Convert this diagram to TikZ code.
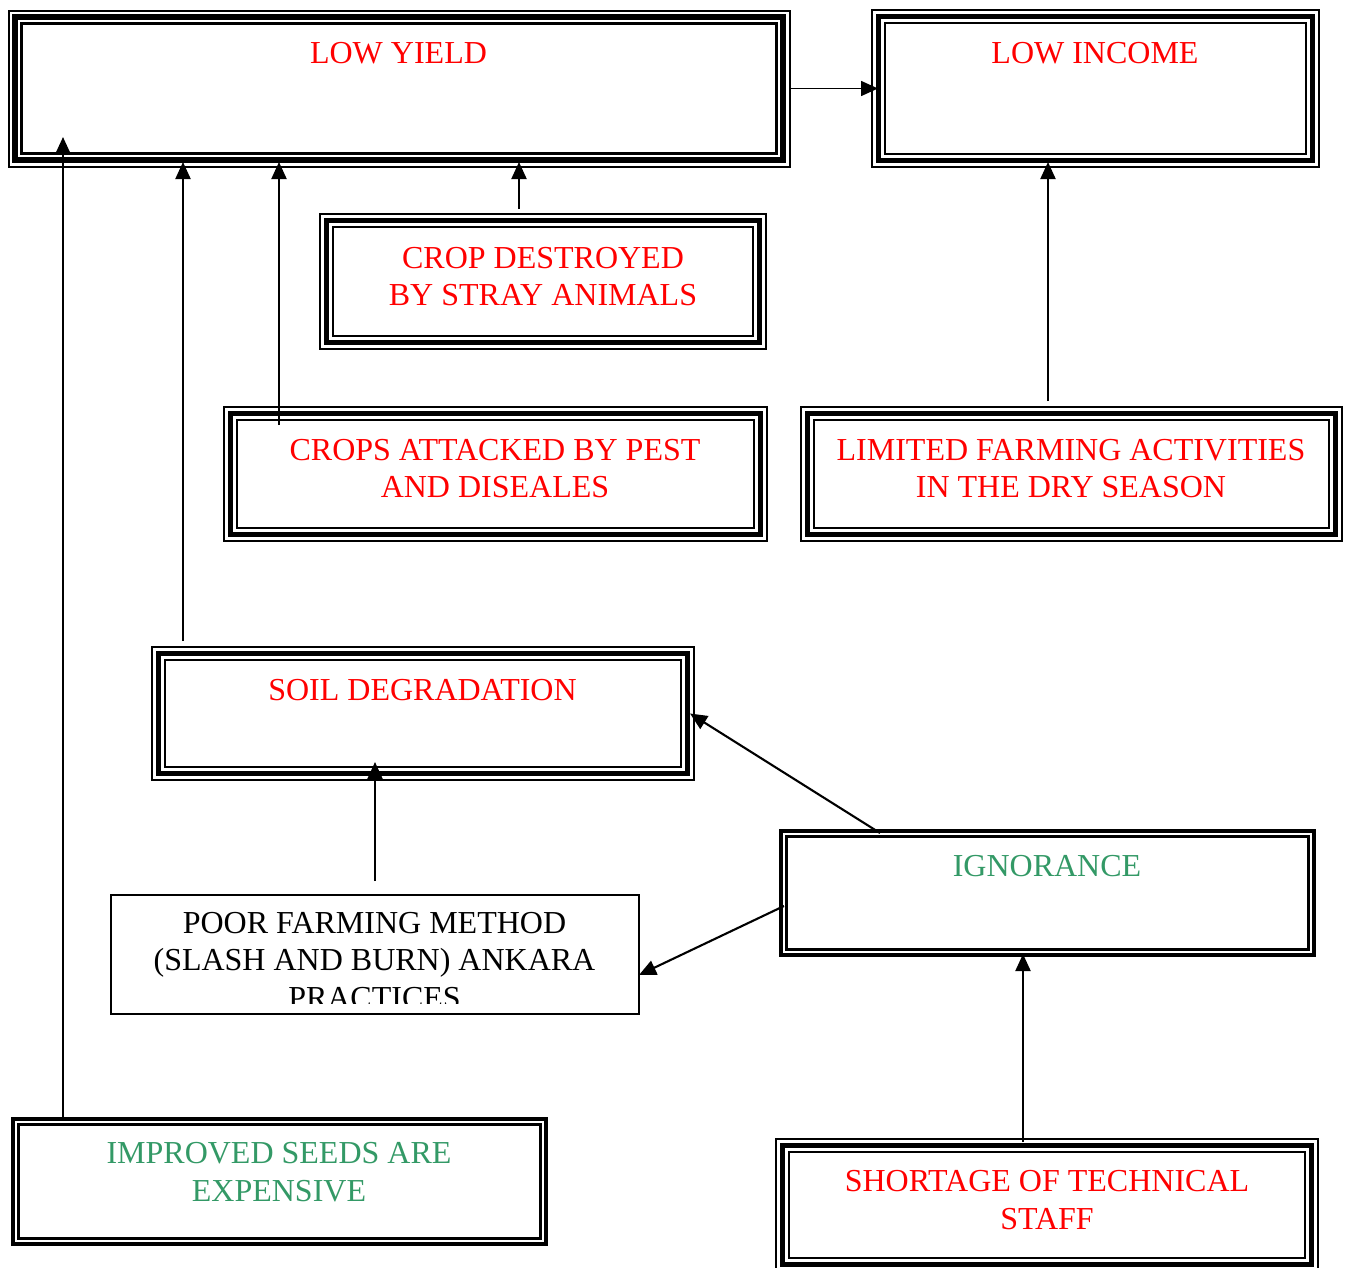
\documentclass[tikz,border=0pt]{standalone}
\usepackage{fontspec}
\setmainfont{Liberation Serif}
\usetikzlibrary{arrows.meta}
\definecolor{txtred}{RGB}{255,0,0}
\definecolor{txtgreen}{RGB}{51,153,102}
\begin{document}
\begin{tikzpicture}[x=1pt,y=-1pt,
  box/.style={draw=none, inner sep=0pt, outer sep=0pt},
  label/.style={anchor=base, align=center, inner sep=0pt,
    font=\fontsize{32}{37.5}\selectfont},
  redtxt/.style={label, text=txtred},
  greentxt/.style={label, text=txtgreen},
  blacktxt/.style={label, text=black},
  arr/.style={line width=2.1pt, -{Triangle[length=17pt,width=15pt]}}]
\useasboundingbox (0,0) rectangle (1349,1267);

% box outlines (outer line centres)
\node[box, minimum width=781pt, minimum height=156pt] (ly) at (399,88.5) {};
\node[box, minimum width=447pt, minimum height=157pt] (li) at (1095.5,88.5) {};
\node[box, minimum width=446pt, minimum height=135pt] (cd) at (543,281.5) {};
\node[box, minimum width=543pt, minimum height=134pt] (ca) at (495.5,474) {};
\node[box, minimum width=541pt, minimum height=134pt] (lf) at (1071.5,474) {};
\node[box, minimum width=542pt, minimum height=133pt] (sd) at (423,713.5) {};
\node[box, minimum width=533pt, minimum height=124pt] (ig) at (1047.5,893) {};
\node[box, minimum width=528pt, minimum height=119pt] (pf) at (375,954.5) {};
\node[box, minimum width=533pt, minimum height=125pt] (is) at (279.5,1181.5) {};
\node[box, minimum width=542pt, minimum height=132pt] (st) at (1047,1205) {};

% thin-thick-thin borders
\foreach \n in {ly,li,cd,ca,lf,sd,st} {
  \draw[line width=2pt] (\n.north west) rectangle (\n.south east);
  \draw[line width=5.5pt] ([shift={(6.5pt,-6.5pt)}]\n.north west) rectangle ([shift={(-6.5pt,6.5pt)}]\n.south east);
  \draw[line width=2.5pt] ([shift={(13pt,-13pt)}]\n.north west) rectangle ([shift={(-13pt,13pt)}]\n.south east);
}
% thick-thin borders
\foreach \n in {ig,is} {
  \draw[line width=4pt] (\n.north west) rectangle (\n.south east);
  \draw[line width=2.5pt] ([shift={(5.5pt,-5.5pt)}]\n.north west) rectangle ([shift={(-5.5pt,5.5pt)}]\n.south east);
}
% plain border
\draw[line width=2pt] (pf.north west) rectangle (pf.south east);

% texts (anchored at the baseline of the last line)
\node[redtxt] (ly-t) at (398.5,63.5) {LOW YIELD};
\node[redtxt] (li-t) at (1095,63.5) {LOW INCOME};
\node[redtxt] (cd-t) at (543,305.5) {CROP DESTROYED\\BY STRAY ANIMALS};
\node[redtxt] (ca-t) at (495,497.5) {CROPS ATTACKED BY PEST\\AND DISEALES};
\node[redtxt] (lf-t) at (1071,497.5) {LIMITED FARMING ACTIVITIES\\IN THE DRY SEASON};
\node[redtxt] (sd-t) at (422.5,700.5) {SOIL DEGRADATION};
\node[greentxt] (ig-t) at (1047,876) {IGNORANCE};
\begin{scope}
  \clip (pf.north west) rectangle ([yshift=11pt]pf.south east);
  \node[blacktxt] (pf-t) at (374.5,1008) {POOR FARMING METHOD\\(SLASH AND BURN) ANKARA\\PRACTICES};
\end{scope}
\node[greentxt] (is-t) at (279,1201) {IMPROVED SEEDS ARE\\EXPENSIVE};
\node[redtxt] (st-t) at (1047,1229) {SHORTAGE OF TECHNICAL\\STAFF};

% connector start points
\coordinate (cdA) at ([xshift=-24pt,yshift=5pt]cd.north);
\coordinate (caA) at ([xshift=55pt,yshift=-18pt]ca.north west);
\coordinate (sdA) at ([xshift=31pt,yshift=6pt]sd.north west);
\coordinate (isA) at ([xshift=50pt,yshift=-1pt]is.north west);
\coordinate (lfA) at ([xshift=-23.5pt,yshift=6pt]lf.north);
\coordinate (pfA) at ([yshift=14pt]pf.north);
\coordinate (igA) at ([xshift=99pt,yshift=-2pt]ig.north west);
\coordinate (igB) at ([xshift=3pt,yshift=-13pt]ig.west);
\coordinate (stA) at ([xshift=-24pt,yshift=-3pt]st.north);

% connectors
\draw[arr, line width=1.6pt, shorten >=-6pt] (ly.east) -- (li.west);
\draw[arr, shorten >=-4.5pt] (cdA) -- (cdA |- ly.south);
\draw[arr, shorten >=-4.5pt] (caA) -- (caA |- ly.south);
\draw[arr, shorten >=-4.5pt] (sdA) -- (sdA |- ly.south);
\draw[arr, shorten >=-29.5pt] (isA) -- (isA |- ly.south);
\draw[arr, shorten >=-5pt] (lfA) -- (lfA |- li.south);
\draw[arr, shorten >=-18pt] (pfA) -- (pfA |- sd.south);
\draw[arr] (igA) -- ([xshift=-4pt]sd.east);
\draw[arr] (igB) -- ([yshift=-20.5pt]pf.east);
\draw[arr, shorten >=-1pt] (stA) -- (stA |- ig.south);
\end{tikzpicture}
\end{document}
